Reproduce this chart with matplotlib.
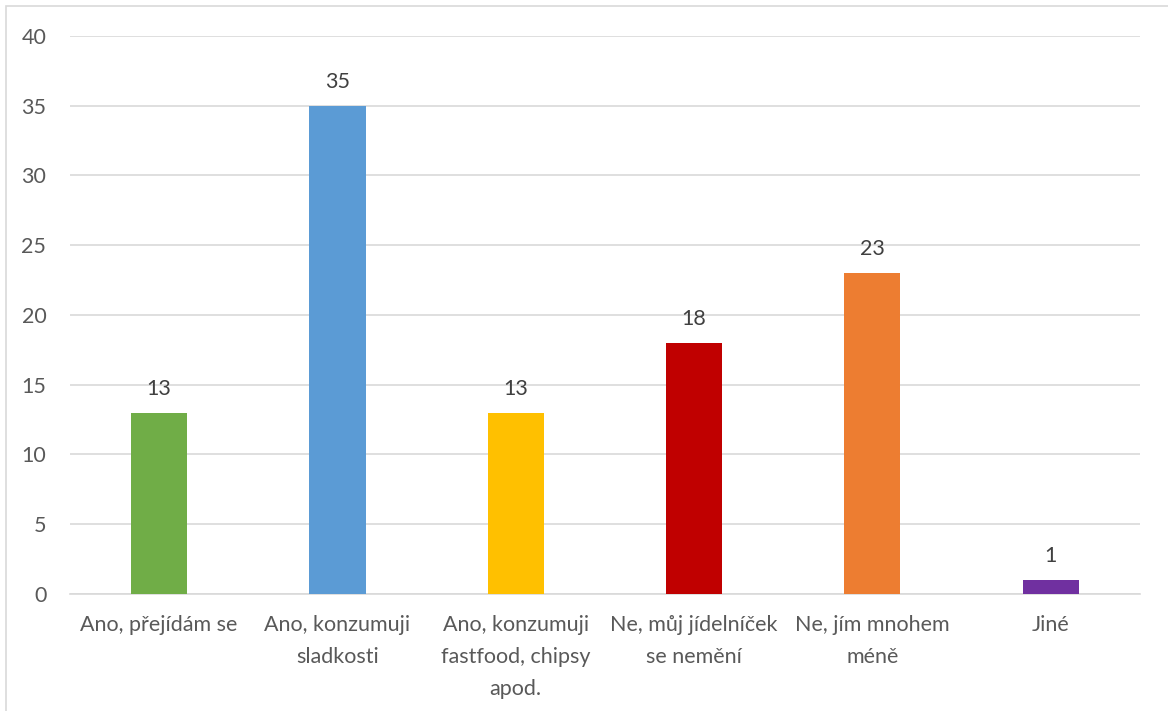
import matplotlib.pyplot as plt
from matplotlib.patches import Rectangle

categories = [
    "Ano, přejídám se",
    "Ano, konzumuji\nsladkosti",
    "Ano, konzumuji\nfastfood, chipsy\napod.",
    "Ne, můj jídelníček\nse nemění",
    "Ne, jím mnohem\nméně",
    "Jiné",
]
values = [13, 35, 13, 18, 23, 1]
colors = ["#70AD47", "#5B9BD5", "#FFC000", "#C00000", "#ED7D31", "#7030A0"]

plt.rcParams["font.family"] = ["Lato", "DejaVu Sans"]
text_color = "#595959"
fs = 15.5

fig = plt.figure(figsize=(11.68, 7.11), dpi=100)
ax = fig.add_axes([0.0599, 0.1646, 0.916, 0.7848])

# thin outer frame of the chart area
fig.patches.append(
    Rectangle((6 / 1168, -0.01), 1.0, 1 - 6 / 711 + 0.01,
              transform=fig.transFigure, fill=False,
              edgecolor="#D9D9D9", linewidth=1.2)
)

x = range(len(categories))
ax.bar(x, values, width=0.315, color=colors, zorder=3)

for i, v in enumerate(values):
    ax.text(i, v + 1.0, str(v), ha="center", va="bottom",
            fontsize=fs, color="#404040")

ax.set_xlim(-0.5, len(categories) - 0.5)
ax.set_ylim(0, 40)
ax.set_yticks(range(0, 41, 5))
ax.yaxis.grid(True, color="#D9D9D9", linewidth=1.2, zorder=0)
ax.set_axisbelow(True)

for side in ["top", "right", "left"]:
    ax.spines[side].set_visible(False)
ax.spines["bottom"].set_color("#D9D9D9")
ax.spines["bottom"].set_linewidth(1.2)

ax.tick_params(axis="both", length=0, labelsize=fs, colors=text_color)
ax.tick_params(axis="y", pad=17)
ax.tick_params(axis="x", pad=15)
ax.set_xticks(list(x))
ax.set_xticklabels(categories, linespacing=1.75)

fig.savefig("out.png", dpi=100)
